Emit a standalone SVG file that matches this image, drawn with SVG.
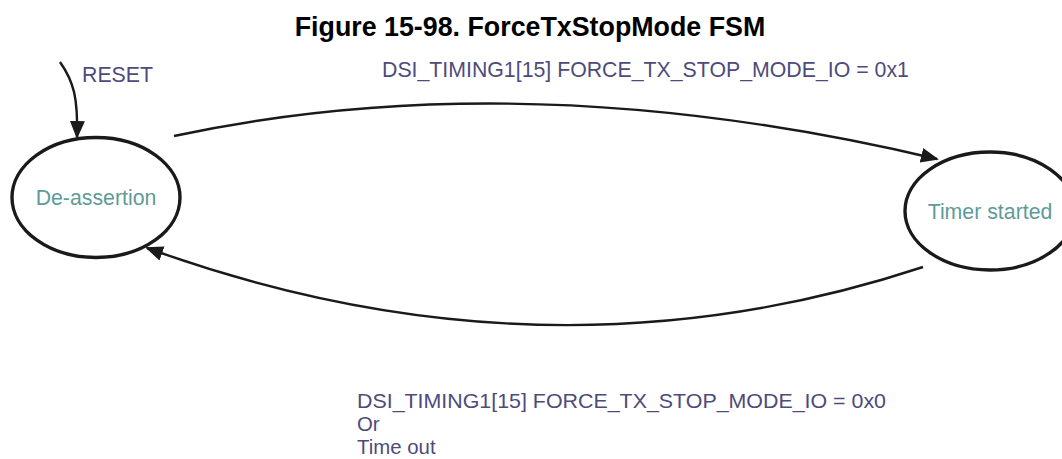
<svg xmlns="http://www.w3.org/2000/svg" width="1062" height="459" viewBox="0 0 1062 459">
<style>
.title{font-family:"Liberation Sans",Arial,sans-serif;font-size:26.8px;font-weight:bold;fill:#000}
.lbl{font-family:"Liberation Sans",Arial,sans-serif;font-size:21.3px;fill:#4e4b7c}
.lbl2{font-family:"Liberation Sans",Arial,sans-serif;font-size:20.4px;fill:#4e4b7c}
.state{font-family:"Liberation Sans",Arial,sans-serif;font-size:21.3px;fill:#5f9b99}
.node{fill:#fff;stroke:#1a1a1a;stroke-width:3.4}
.edge{fill:none;stroke:#1a1a1a;stroke-width:2.4}
</style>
<defs>
<marker id="ah" markerUnits="userSpaceOnUse" markerWidth="19" markerHeight="16" refX="16" refY="7.5" orient="auto">
<path d="M0,0 L18,7.5 L0,15 z" fill="#1a1a1a"/>
</marker>
</defs>
<rect width="1062" height="459" fill="#fff"/>
<text class="title" x="530" y="36" text-anchor="middle">Figure 15-98. ForceTxStopMode FSM</text>
<g id="node-deassertion">
<ellipse class="node" cx="96" cy="197.5" rx="84" ry="60"/>
<text class="state" x="96" y="205" text-anchor="middle">De-assertion</text>
</g>
<g id="node-timer">
<ellipse class="node" cx="990" cy="211" rx="85" ry="59"/>
<text class="state" x="990" y="219" text-anchor="middle">Timer started</text>
</g>
<g id="connectors">
<path class="edge" d="M60,62 C74,82 78,98 77,137" marker-end="url(#ah)"/>
<path class="edge" d="M174,136 Q524,61 937,159" marker-end="url(#ah)"/>
<path class="edge" d="M923,267 Q545,392 147,248" marker-end="url(#ah)"/>
</g>
<g id="labels">
<text class="lbl" x="82" y="82">RESET</text>
<text class="lbl" x="382" y="77">DSI_TIMING1[15] FORCE_TX_STOP_MODE_IO = 0x1</text>
<text class="lbl2" x="357" y="408" textLength="529" lengthAdjust="spacingAndGlyphs">DSI_TIMING1[15] FORCE_TX_STOP_MODE_IO = 0x0</text>
<text class="lbl2" x="357" y="431">Or</text>
<text class="lbl2" x="357" y="454">Time out</text>
</g>
</svg>
